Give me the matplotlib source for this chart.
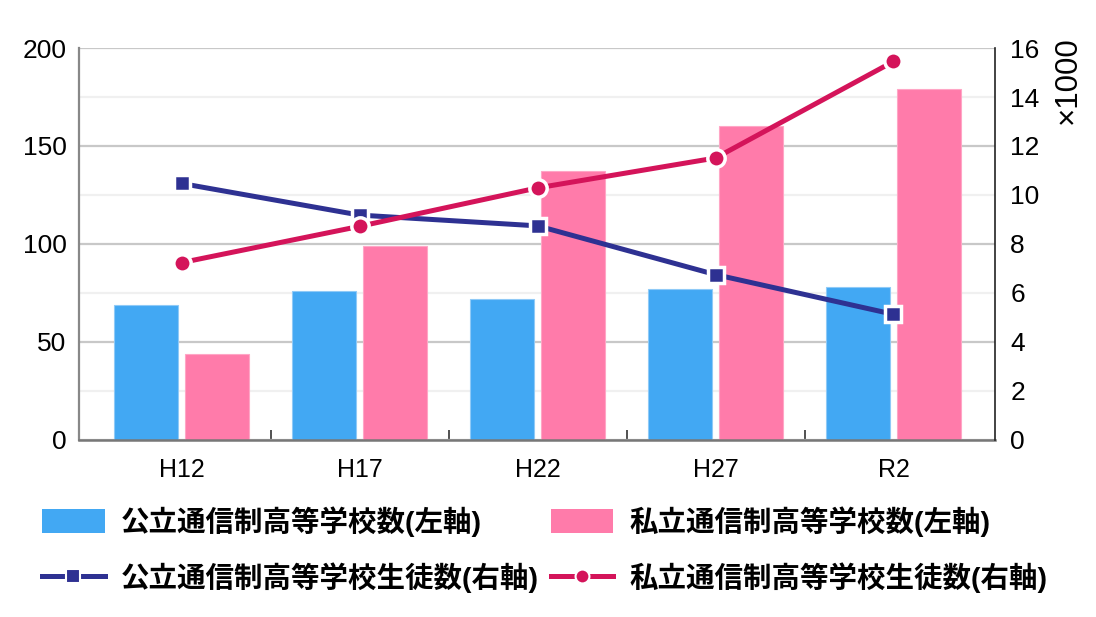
import numpy as np
import matplotlib
matplotlib.use("Agg")
import matplotlib.pyplot as plt
from matplotlib.lines import Line2D
from matplotlib.patches import Patch
from matplotlib.ticker import MultipleLocator, FixedLocator

plt.rcParams["font.family"] = ["Liberation Sans", "Noto Sans CJK JP", "DejaVu Sans"]

# ---------- data ----------
years = ["H12", "H17", "H22", "H27", "R2"]
public_schools = [69, 76, 72, 77, 78]        # left axis
private_schools = [44, 99, 137, 160, 179]    # left axis
public_students = [10.47, 9.18, 8.74, 6.75, 5.13]    # right axis, x1000
private_students = [7.24, 8.72, 10.29, 11.51, 15.45]  # right axis, x1000

labels = [
    "公立通信制高等学校数(左軸)",
    "私立通信制高等学校数(左軸)",
    "公立通信制高等学校生徒数(右軸)",
    "私立通信制高等学校生徒数(右軸)",
]

C_PUB_BAR = "#42A8F3"
C_PRI_BAR = "#FF7BAA"
C_PUB_LINE = "#2E3192"
C_PRI_LINE = "#D4145A"

# ---------- figure ----------
fig = plt.figure(figsize=(10.96, 6.17), dpi=100)
ax = fig.add_axes([0.0721, 0.2869, 0.8357, 0.6353])

x = np.arange(len(years))
w = 0.36
ax.bar(x - 0.2, public_schools, w, color=C_PUB_BAR, edgecolor="#8fcaf7", linewidth=0.8, zorder=2)
ax.bar(x + 0.2, private_schools, w, color=C_PRI_BAR, edgecolor="#ffa6c6", linewidth=0.8, zorder=2)

ax.set_xlim(-0.576, 4.57)
ax.set_ylim(0, 200)
ax.yaxis.set_major_locator(MultipleLocator(50))
ax.yaxis.set_minor_locator(MultipleLocator(25))
ax.set_axisbelow(True)
ax.grid(axis="y", which="major", color="#c8c8c8", linewidth=1.6)
ax.grid(axis="y", which="minor", color="#f0f0f0", linewidth=1.6)

ax.set_xticks(x)
ax.set_xticklabels(years, fontsize=18)
ax.xaxis.set_minor_locator(FixedLocator(x[:-1] + 0.5))
ax.tick_params(axis="x", which="major", length=0, pad=13)
ax.tick_params(axis="x", which="minor", direction="in", length=7, width=1.2, color="#333333")
ax.tick_params(axis="y", which="both", length=0, pad=9, labelsize=19)

ax.spines["top"].set_visible(False)
ax.spines["right"].set_visible(False)
ax.spines["left"].set_color("#888888")
ax.spines["left"].set_linewidth(1.6)
ax.spines["bottom"].set_color("#777777")
ax.spines["bottom"].set_linewidth(1.8)

# ---------- right axis ----------
ax2 = ax.twinx()
ax2.set_ylim(0, 16)
ax2.yaxis.set_major_locator(MultipleLocator(2))
ax2.tick_params(axis="y", length=0, pad=11, labelsize=19)
for s in ["top", "left", "bottom"]:
    ax2.spines[s].set_visible(False)
ax2.spines["right"].set_color("#222222")
ax2.spines["right"].set_linewidth(1.2)

ax2.plot(x, public_students, color=C_PUB_LINE, linewidth=3.6, marker="s",
         markersize=12, markerfacecolor=C_PUB_LINE, markeredgecolor="white",
         markeredgewidth=2.5, zorder=3)
ax2.plot(x, private_students, color=C_PRI_LINE, linewidth=3.6, marker="o",
         markersize=12.5, markerfacecolor=C_PRI_LINE, markeredgecolor="white",
         markeredgewidth=2.5, zorder=3)

fig.text(1068 / 1096, 1 - 80 / 617, "×1000", rotation=90, fontsize=22.5,
         ha="center", va="center")

# ---------- legend (column-major order for ncol=2) ----------
h_pub_bar = Patch(facecolor=C_PUB_BAR, edgecolor="none")
h_pri_bar = Patch(facecolor=C_PRI_BAR, edgecolor="none")
h_pub_line = Line2D([], [], color=C_PUB_LINE, linewidth=3.6, marker="s", markersize=10,
                    markeredgecolor="white", markeredgewidth=1.5)
h_pri_line = Line2D([], [], color=C_PRI_LINE, linewidth=3.6, marker="o", markersize=10,
                    markeredgecolor="white", markeredgewidth=1.5)
handles = [h_pub_bar, h_pub_line, h_pri_bar, h_pri_line]
leg_labels = [labels[0], labels[2], labels[1], labels[3]]
fig.legend(handles, leg_labels, loc="upper left", bbox_to_anchor=(42 / 1096, 1 - 506 / 617),
           ncol=2, frameon=False, borderpad=0, borderaxespad=0,
           prop={"size": 20.5, "weight": "bold"}, handlelength=2.2, handleheight=0.9,
           handletextpad=0.58, columnspacing=0.4, labelspacing=0.9)

fig.savefig("out.png", dpi=100)
